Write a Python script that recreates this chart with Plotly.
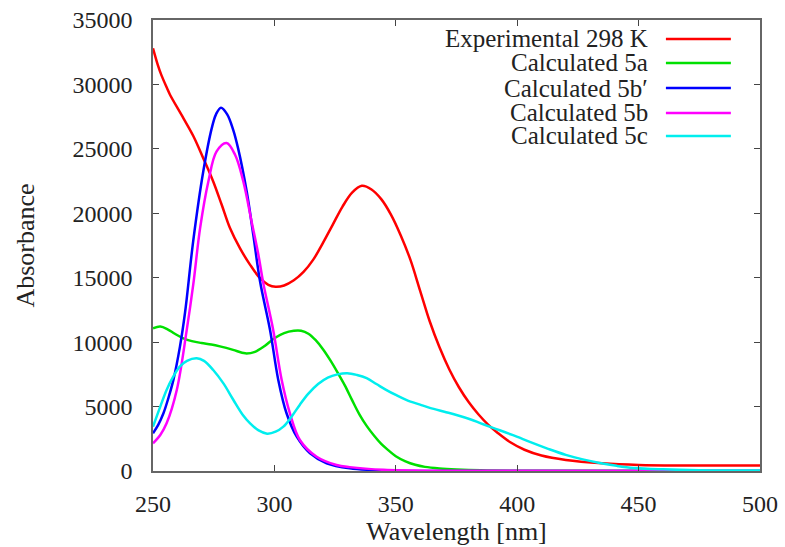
import plotly.graph_objects as go

# ---- data ----
exp_x = [250, 252, 253.5, 255.8, 257, 262.5, 266.6, 270.7, 274.8, 278.3, 281.7, 285.8, 290, 294.1, 297.5, 300.5,
         304, 308, 312, 316, 320, 324, 328, 332, 336, 340, 344, 348, 352, 356, 360, 364, 368, 372, 376, 380,
         384, 388, 392, 397, 403, 410, 420, 435, 450, 470, 500]
exp_y = [32800, 31500, 30700, 29700, 29200, 27390, 26000, 24280, 22470, 20660, 18850, 17290, 16000, 14960, 14450, 14300,
         14400, 14800, 15450, 16400, 17700, 19100, 20500, 21600, 22130, 21850, 21100, 19900, 18300, 16400, 14000, 11600,
         9600, 7900, 6500, 5350, 4400, 3600, 2950, 2250, 1650, 1200, 860, 600, 470, 430, 420]

a_x = [250, 253, 256, 259, 262.5, 266, 270, 274, 278, 283, 288, 292, 296, 300, 304, 308, 311, 314, 317,
       320, 323, 326, 329, 332, 335, 338, 341, 344, 347, 350, 354, 358, 362, 368, 375, 385, 400, 500]
a_y = [11080, 11210, 11000, 10650, 10300, 10080, 9930, 9820, 9650, 9400, 9130, 9250, 9700, 10300, 10700, 10880,
       10880, 10650, 10150, 9450, 8600, 7650, 6650, 5500, 4400, 3500, 2750, 2100, 1600, 1150, 750, 480, 320,
       200, 120, 50, 10, 0]

bp_x = [250, 252.2, 254.3, 256.4, 258.4, 261.1, 263.2, 266.6, 270.7, 274.2, 276, 278, 280.5, 283, 285.1, 288.6,
        291.3, 294.1, 298.2, 301.6, 305, 309.2, 314.7, 321.5, 331, 345, 380, 500]
bp_y = [2930, 3600, 4480, 5700, 7070, 9650, 12300, 17900, 23240, 26610, 27700, 28190, 27700, 26500, 25000, 21690,
        18330, 14700, 10950, 7070, 4480, 2660, 1370, 600, 210, 40, 0, 0]

b_x = [250, 253, 255.6, 259.8, 263.9, 266.6, 269.4, 272.8, 276.2, 280.3, 283.8, 287.2, 290.6, 293.4, 295.4,
       299.5, 303, 306.4, 310.5, 317.4, 325.6, 331, 345, 370, 500]
b_y = [2150, 2800, 3700, 6290, 10950, 14500, 18850, 22470, 24800, 25450, 24540, 22470, 19360, 16780, 14600,
       10950, 7070, 4480, 2410, 1110, 470, 300, 90, 20, 0]

c_x = [250, 253, 255.6, 258, 261, 264, 268, 271, 274.8, 279, 283, 287, 290, 293.5, 297, 300.5, 303.7, 307,
       310.5, 314, 318, 322, 326, 330, 334, 338, 342, 346, 350, 354.5, 360, 364, 370, 375, 380.6, 385, 390,
       398, 406, 413, 420, 427, 434, 441, 448, 460, 475, 500]
c_y = [3440, 5000, 6290, 7200, 8100, 8550, 8750, 8550, 7840, 6800, 5550, 4350, 3700, 3150, 2900, 3050, 3440, 4200,
       5150, 6000, 6750, 7250, 7500, 7590, 7450, 7200, 6750, 6300, 5900, 5500, 5150, 4900, 4600, 4350, 4020, 3700, 3350,
       2800, 2200, 1700, 1250, 900, 620, 400, 240, 130, 60, 30]

series = [
    ("Experimental 298 K", exp_x, exp_y, "#ff0000"),
    ("Calculated 5a", a_x, a_y, "#00e000"),
    ("Calculated 5b\u2032", bp_x, bp_y, "#0000ff"),
    ("Calculated 5b", b_x, b_y, "#ff00ff"),
    ("Calculated 5c", c_x, c_y, "#00eeee"),
]

x_ticks = [250, 300, 350, 400, 450, 500]
y_ticks = [0, 5000, 10000, 15000, 20000, 25000, 30000, 35000]

FONT = "Liberation Serif"
TXT = "#222222"

fig = go.Figure()
for name, xs, ys, col in series:
    fig.add_trace(go.Scatter(x=xs, y=ys, mode="lines", name=name,
                             line=dict(color=col, width=2.5, shape="spline", smoothing=1.0),
                             showlegend=False))

# manual legend (text right-aligned, sample line to the right, gnuplot style)
leg_y = [0.958, 0.9047, 0.849, 0.794, 0.7428]
for (name, xs, ys, col), ly in zip(series, leg_y):
    fig.add_annotation(x=0.8188, y=ly, xref="paper", yref="paper", text=name,
                       showarrow=False, xanchor="right", yanchor="middle",
                       font=dict(family=FONT, size=25, color=TXT))
    fig.add_shape(type="line", xref="paper", yref="paper", x0=0.845, x1=0.952, y0=ly, y1=ly,
                  line=dict(color=col, width=2.5))

axis_common = dict(showgrid=False, zeroline=False, showline=True, linecolor="#666666", linewidth=1.5,
                   mirror="ticks", ticks="inside", ticklen=6, tickcolor="#444444", tickwidth=1,
                   automargin=False,
                   tickfont=dict(family=FONT, size=24, color=TXT))

fig.update_xaxes(range=[250, 500], tickvals=x_ticks, ticktext=[str(v) for v in x_ticks],
                 title=dict(text="Wavelength [nm]", font=dict(family=FONT, size=26, color=TXT), standoff=4),
                 ticklabelstandoff=10, **axis_common)
fig.update_yaxes(range=[0, 35000], tickvals=y_ticks, ticktext=[str(v) for v in y_ticks],
                 title=dict(text="Absorbance", font=dict(family=FONT, size=26, color=TXT), standoff=30),
                 ticklabelstandoff=14, **axis_common)

fig.update_layout(width=785, height=547, margin=dict(l=153, r=25, t=20, b=76),
                  paper_bgcolor="white", plot_bgcolor="white",
                  font=dict(family=FONT))

fig.write_html("out.html", config={"displayModeBar": False},
               post_script="document.body.style.margin='0';")
